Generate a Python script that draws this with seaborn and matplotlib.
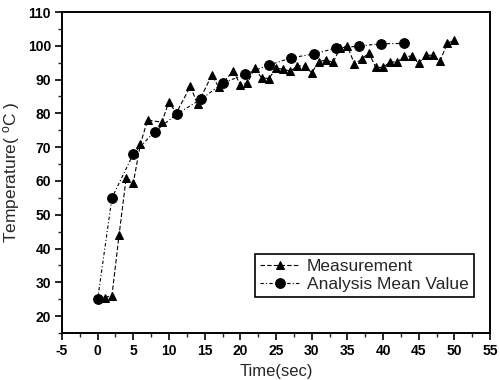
import matplotlib
matplotlib.use("Agg")
import matplotlib.pyplot as plt
import seaborn as sns
import pandas as pd
from matplotlib.ticker import MultipleLocator

meas_x = [1, 2, 3, 4, 5, 6, 7, 9, 10, 11, 13, 14, 16, 17, 19, 20, 21, 22, 23, 24,
          25, 26, 27, 28, 29, 30, 31, 32, 33, 34, 35, 36, 37, 38, 39, 40, 41, 42,
          43, 44, 45, 46, 47, 48, 49, 50]
meas_y = [25.5, 26, 44, 61, 59.5, 71, 78, 77.4, 83.5, 80, 88, 82.7, 91.3, 87.7,
          92.5, 88.5, 89, 93.3, 90.5, 90.3, 93.3, 93.1, 92.5, 94, 94.1, 92, 95.3,
          95.8, 95.1, 99.4, 100, 94.6, 96, 97.9, 93.6, 93.6, 95.2, 95.2, 96.9,
          96.9, 94.8, 97.2, 97.2, 95.5, 100.7, 101.7]
mean_x = [0, 2, 5, 8, 11.1, 14.5, 17.6, 20.7, 24, 27.1, 30.3, 33.4, 36.6, 39.7, 42.9]
mean_y = [25, 55, 68, 74.6, 79.8, 84.2, 89, 91.6, 94.3, 96.4, 97.6, 99.3, 99.9, 100.6, 100.7]

sns.set_style("ticks")
plt.rcParams['font.family'] = ['Liberation Sans', 'DejaVu Sans']
plt.rcParams['axes.unicode_minus'] = False

fig = plt.figure(figsize=(5.0, 3.8), dpi=100)
left, right, top, bottom = 62, 490, 12, 333
ax = fig.add_axes([left/500, 1 - bottom/380, (right-left)/500, (bottom-top)/380])

df_m = pd.DataFrame({"x": meas_x, "y": meas_y})
df_a = pd.DataFrame({"x": mean_x, "y": mean_y})

sns.lineplot(data=df_m, x="x", y="y", ax=ax, color="black", lw=0.8,
             linestyle=(0, (4, 2)), marker="^", markersize=6,
             markeredgecolor="black", markerfacecolor="black",
             label="Measurement", sort=False)
sns.lineplot(data=df_a, x="x", y="y", ax=ax, color="black", lw=0.8,
             linestyle=(0, (3, 2, 1, 2)), marker="o", markersize=7,
             markeredgecolor="black", markerfacecolor="black",
             label="Analysis Mean Value", sort=False)

ax.set_xlim(-5, 55)
ax.set_ylim(15, 110)
ax.xaxis.set_major_locator(MultipleLocator(5))
ax.xaxis.set_minor_locator(MultipleLocator(2.5))
ax.yaxis.set_minor_locator(MultipleLocator(5))
ax.set_yticks(range(20, 111, 10))
ax.tick_params(axis='both', which='major', direction='out', length=5, width=1.2,
               labelsize=10, colors='black', pad=3)
ax.tick_params(axis='both', which='minor', direction='out', length=3, width=1.0)
for lab in ax.get_xticklabels() + ax.get_yticklabels():
    lab.set_fontweight('bold')
for sp in ax.spines.values():
    sp.set_linewidth(1.4)
    sp.set_color('black')

ax.set_xlabel("Time(sec)", fontsize=12, labelpad=4)
ax.set_ylabel(r"Temperature( $\mathregular{^{o}}$C )", fontsize=12.5, labelpad=4)

leg = ax.legend(loc='lower right',
                bbox_to_anchor=((474-left)/(right-left), (bottom-297)/(bottom-top)),
                borderaxespad=0, frameon=True, fancybox=False, framealpha=1,
                edgecolor='black', fontsize=12.5, handlelength=2.3,
                borderpad=0.3, labelspacing=0.15, handletextpad=0.4)
leg.get_frame().set_linewidth(1.2)

fig.savefig("out.png", dpi=100)
